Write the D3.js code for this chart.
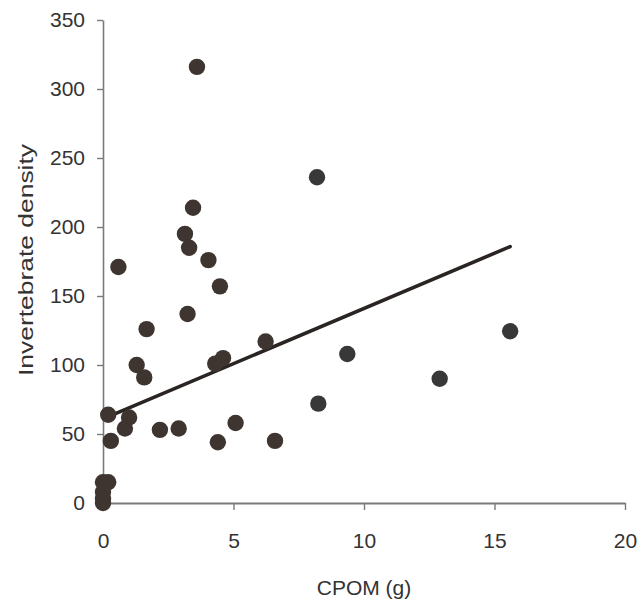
<!DOCTYPE html>
<html>
<head>
<meta charset="utf-8">
<script src="https://cdn.jsdelivr.net/npm/d3@7"></script>
<style>
  html, body { margin: 0; padding: 0; background: #fff; }
  svg { display: block; }
  text { font-family: "Liberation Sans", Arial, sans-serif; fill: #333; }
</style>
</head>
<body>
<svg id="chart" width="641" height="605"></svg>
<script>
// CPOM (g) per sample
const cpom = [
  3.6, 8.2, 3.45, 3.14, 3.3, 4.04, 0.59, 4.48, 3.24, 1.67,
  1.29, 1.58, 4.3, 4.6, 6.23, 15.6, 9.36, 12.9, 8.25, 0.2,
  1.0, 0.84, 0.3, 2.18, 2.9, 4.4, 5.08, 6.59, 0.2, 0.0,
  0.0, 0.0, 0.0
];
// Invertebrate density per sample
const density = [
  316, 236, 214, 195, 185, 176, 171, 157, 137, 126,
  100, 91, 101, 105, 117, 124.5, 108, 90, 72, 64,
  62, 54, 45, 53, 54, 44, 58, 45, 15, 15,
  8, 3, 0
];
// Least-squares fit
const fitIntercept = 61;
const fitSlope = 8.0;
const fitRange = [0.25, 15.6];

const xTicks = [0, 5, 10, 15, 20];
const yTicks = [0, 50, 100, 150, 200, 250, 300, 350];

const svg = d3.select("#chart");
const x = d3.scaleLinear().domain([0, 20]).range([103, 625]);
const y = d3.scaleLinear().domain([0, 350]).range([503, 20]);

const axisColor = "#7a7a7a";

// y axis
const yAxis = svg.append("g")
  .attr("transform", "translate(103,0)")
  .call(d3.axisLeft(y).tickValues(yTicks).tickSize(6).tickPadding(12).tickSizeOuter(0));
yAxis.select(".domain").attr("stroke", axisColor).attr("stroke-width", 1.6);
yAxis.selectAll(".tick line").attr("stroke", axisColor).attr("stroke-width", 1.4);
yAxis.selectAll(".tick text")
  .attr("font-size", 21)
  .attr("font-family", "Liberation Sans, Arial, sans-serif")
  .attr("fill", "#3a3a3a");

// x axis
const xAxis = svg.append("g")
  .attr("transform", "translate(0,503)")
  .call(d3.axisBottom(x).tickValues(xTicks).tickSize(7).tickPadding(23).tickSizeOuter(0));
xAxis.select(".domain").attr("stroke", axisColor).attr("stroke-width", 1.8);
xAxis.selectAll(".tick line").attr("stroke", axisColor).attr("stroke-width", 1.4);
xAxis.selectAll(".tick text")
  .attr("font-size", 21)
  .attr("font-family", "Liberation Sans, Arial, sans-serif")
  .attr("fill", "#3a3a3a");

// axis titles
svg.append("text")
  .attr("x", 364).attr("y", 595)
  .attr("text-anchor", "middle")
  .attr("font-size", 21)
  .text("CPOM (g)");

svg.append("text")
  .attr("transform", "translate(33,260) rotate(-90)")
  .attr("text-anchor", "middle")
  .attr("font-size", 21)
  .attr("textLength", 232)
  .attr("lengthAdjust", "spacingAndGlyphs")
  .text("Invertebrate density");

// regression line
svg.append("line")
  .attr("x1", x(fitRange[0])).attr("y1", y(fitIntercept + fitSlope * fitRange[0]))
  .attr("x2", x(fitRange[1])).attr("y2", y(fitIntercept + fitSlope * fitRange[1]))
  .attr("stroke", "#2a2522")
  .attr("stroke-width", 3.6)
  .attr("stroke-linecap", "round");

// sample points
svg.append("g").selectAll("circle")
  .data(d3.range(cpom.length))
  .join("circle")
  .attr("cx", i => x(cpom[i]))
  .attr("cy", i => y(density[i]))
  .attr("r", 8.2)
  .attr("fill", i => cpom[i] > 7 ? "#383838" : "#3f3530");
</script>
</body>
</html>
